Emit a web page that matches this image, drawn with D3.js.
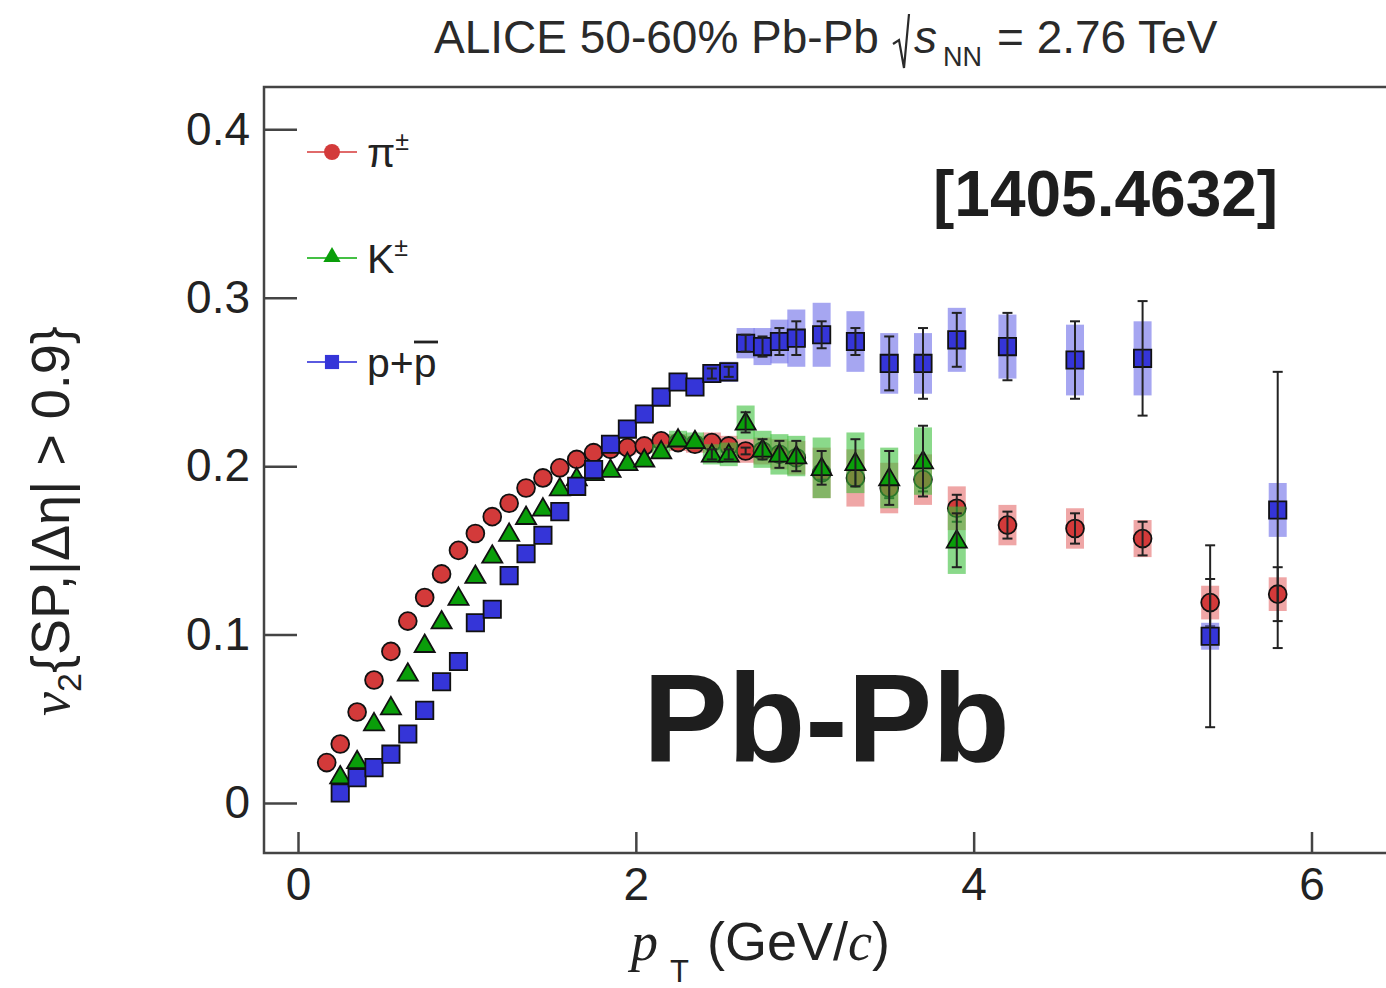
<!DOCTYPE html>
<html>
<head>
<meta charset="utf-8">
<script src="https://cdn.jsdelivr.net/npm/d3@7"></script>
<style>
  html, body { margin: 0; padding: 0; background: #fff; }
  svg { display: block; font-family: "Liberation Sans", Arial, Helvetica, sans-serif; }
</style>
</head>
<body>
<svg id="chart" width="1386" height="988"></svg>
<script>
// ---- data ----
const pionPt = [0.17, 0.25, 0.35, 0.45, 0.55, 0.65, 0.75, 0.85, 0.95, 1.05, 1.15, 1.25, 1.35, 1.45, 1.55, 1.65, 1.75, 1.85, 1.95, 2.05, 2.15, 2.25, 2.35, 2.45, 2.55, 2.65, 2.75, 2.85, 2.95, 3.1, 3.3, 3.5, 3.7, 3.9, 4.2, 4.6, 5.0, 5.4, 5.8];
const pionV2 = [0.024, 0.035, 0.054, 0.073, 0.090, 0.108, 0.122, 0.136, 0.150, 0.160, 0.170, 0.178, 0.187, 0.193, 0.199, 0.204, 0.208, 0.210, 0.211, 0.212, 0.215, 0.214, 0.213, 0.214, 0.212, 0.209, 0.209, 0.207, 0.205, 0.196, 0.193, 0.187, 0.192, 0.175, 0.165, 0.163, 0.157, 0.119, 0.124];
const pionStat = [0, 0, 0, 0, 0, 0, 0, 0, 0, 0, 0, 0, 0, 0, 0, 0, 0, 0, 0, 0, 0, 0, 0, 0, 0, 0.002, 0.002, 0.003, 0.003, 0.004, 0.005, 0.006, 0.007, 0.008, 0.008, 0.009, 0.010, 0.014, 0.016];
const pionSys = [0, 0, 0, 0, 0, 0, 0, 0, 0, 0, 0, 0, 0, 0, 0, 0, 0, 0, 0.004, 0.004, 0.004, 0.005, 0.005, 0.006, 0.006, 0.007, 0.008, 0.009, 0.010, 0.015, 0.017, 0.015, 0.015, 0.013, 0.012, 0.012, 0.011, 0.010, 0.010];

const kaonPt = [0.25, 0.35, 0.45, 0.55, 0.65, 0.75, 0.85, 0.95, 1.05, 1.15, 1.25, 1.35, 1.45, 1.55, 1.65, 1.75, 1.85, 1.95, 2.05, 2.15, 2.25, 2.35, 2.45, 2.55, 2.65, 2.75, 2.85, 2.95, 3.1, 3.3, 3.5, 3.7, 3.9];
const kaonV2 = [0.016, 0.025, 0.0475, 0.057, 0.077, 0.094, 0.108, 0.122, 0.135, 0.147, 0.160, 0.170, 0.175, 0.187, 0.193, 0.196, 0.198, 0.202, 0.204, 0.209, 0.216, 0.215, 0.207, 0.207, 0.226, 0.210, 0.207, 0.206, 0.199, 0.202, 0.193, 0.203, 0.156];
const kaonStat = [0, 0, 0, 0, 0, 0, 0, 0, 0, 0, 0, 0, 0, 0, 0, 0, 0, 0, 0, 0, 0, 0, 0.003, 0.003, 0.006, 0.006, 0.008, 0.009, 0.010, 0.014, 0.016, 0.021, 0.016];
const kaonSys = [0, 0, 0, 0, 0, 0, 0, 0, 0, 0, 0, 0, 0, 0, 0, 0, 0, 0, 0, 0.004, 0.005, 0.005, 0.006, 0.007, 0.010, 0.011, 0.012, 0.012, 0.018, 0.018, 0.018, 0.020, 0.020];

const protonPt = [0.25, 0.35, 0.45, 0.55, 0.65, 0.75, 0.85, 0.95, 1.05, 1.15, 1.25, 1.35, 1.45, 1.55, 1.65, 1.75, 1.85, 1.95, 2.05, 2.15, 2.25, 2.35, 2.45, 2.55, 2.65, 2.75, 2.85, 2.95, 3.1, 3.3, 3.5, 3.7, 3.9, 4.2, 4.6, 5.0, 5.4, 5.8];
const protonV2 = [0.006, 0.015, 0.021, 0.029, 0.041, 0.055, 0.072, 0.084, 0.107, 0.115, 0.135, 0.148, 0.159, 0.173, 0.188, 0.198, 0.213, 0.222, 0.231, 0.241, 0.250, 0.247, 0.255, 0.256, 0.273, 0.271, 0.274, 0.276, 0.278, 0.274, 0.261, 0.261, 0.275, 0.271, 0.263, 0.264, 0.099, 0.174];
const protonStat = [0, 0, 0, 0, 0, 0, 0, 0, 0, 0, 0, 0, 0, 0, 0, 0, 0, 0, 0, 0, 0, 0, 0.003, 0.003, 0.005, 0.006, 0.008, 0.010, 0.008, 0.008, 0.016, 0.021, 0.016, 0.020, 0.023, 0.034, 0.054, 0.082];
const protonSys = [0, 0, 0, 0, 0, 0, 0, 0, 0, 0, 0, 0, 0, 0, 0, 0, 0, 0, 0, 0, 0.004, 0.004, 0.005, 0.006, 0.009, 0.011, 0.013, 0.017, 0.019, 0.018, 0.018, 0.018, 0.019, 0.019, 0.021, 0.022, 0.008, 0.016];

const xTicks = [0, 2, 4, 6];
const yTicks = [0, 0.1, 0.2, 0.3, 0.4];
const yTickLabels = ["0", "0.1", "0.2", "0.3", "0.4"];

// ---- layout ----
const svg = d3.select("#chart");
const frame = { left: 264, top: 87, right: 1400, bottom: 853 };
const x = d3.scaleLinear().domain([0, 6]).range([298, 1311.5]);
const y = d3.scaleLinear().domain([0, 0.4]).range([803, 129.3]);
const axisColor = "#444";
const textColor = "#222";

// axes
const gx = svg.append("g").attr("transform", `translate(0,${frame.bottom})`)
  .call(d3.axisBottom(x).tickValues(xTicks).tickSize(-21).tickPadding(14).tickFormat(d3.format("d")));
const gy = svg.append("g").attr("transform", `translate(${frame.left},0)`)
  .call(d3.axisLeft(y).tickValues(yTicks).tickSize(-33).tickPadding(14).tickFormat((d, i) => yTickLabels[i]));
[gx, gy].forEach(g => {
  g.select(".domain").remove();
  g.selectAll(".tick line").attr("stroke", axisColor).attr("stroke-width", 2.5);
  g.selectAll(".tick text").attr("fill", textColor).attr("font-size", 46)
    .attr("font-family", "'Liberation Sans', Arial, sans-serif");
});

// frame
svg.append("path")
  .attr("d", `M${frame.right},${frame.top}H${frame.left}V${frame.bottom}H${frame.right}`)
  .attr("fill", "none").attr("stroke", axisColor).attr("stroke-width", 2.5);

// series
const series = [
  { pt: pionPt, v: pionV2, stat: pionStat, sys: pionSys, fill: "#d33a3a", sysFill: "#e56a6a", line: "#e06a6a", shape: "circle" },
  { pt: kaonPt, v: kaonV2, stat: kaonStat, sys: kaonSys, fill: "#0a9e0a", sysFill: "#3cbf3c", line: "#44c044", shape: "triangle" },
  { pt: protonPt, v: protonV2, stat: protonStat, sys: protonSys, fill: "#3535d8", sysFill: "#6a6ae8", line: "#5a5ae0", shape: "square" }
];

const symbolFor = s => s === "circle" ? d3.symbol(d3.symbolCircle, 250)
  : s === "triangle" ? d3.symbol(d3.symbolTriangle, 175)
  : d3.symbol(d3.symbolSquare, 300);

series.forEach(s => {
  const data = s.pt.map((p, i) => ({ p, v: s.v[i], e: s.stat[i], sy: s.sys[i] }));
  const g = svg.append("g");
  // systematic boxes
  g.selectAll("rect.sys").data(data.filter(d => d.sy > 0)).join("rect")
    .attr("x", d => x(d.p) - 9).attr("width", 18)
    .attr("y", d => y(d.v + d.sy)).attr("height", d => y(d.v - d.sy) - y(d.v + d.sy))
    .attr("fill", s.sysFill).attr("fill-opacity", 0.6);
  // markers
  g.selectAll("path.m").data(data).join("path")
    .attr("transform", d => `translate(${x(d.p)},${y(d.v) + (s.shape === "triangle" ? 1.5 : 0)})`)
    .attr("d", symbolFor(s.shape))
    .attr("fill", s.fill).attr("stroke", "#111").attr("stroke-width", 1.8);
  // statistical bars
  const eb = g.selectAll("g.eb").data(data.filter(d => d.e > 0)).join("g");
  eb.append("line").attr("x1", d => x(d.p)).attr("x2", d => x(d.p))
    .attr("y1", d => y(d.v + d.e)).attr("y2", d => y(d.v - d.e))
    .attr("stroke", "#222").attr("stroke-width", 2);
  [1, -1].forEach(sgn => {
    eb.append("line").attr("x1", d => x(d.p) - 5).attr("x2", d => x(d.p) + 5)
      .attr("y1", d => y(d.v + sgn * d.e)).attr("y2", d => y(d.v + sgn * d.e))
      .attr("stroke", "#222").attr("stroke-width", 2);
  });
});

// legend
const legendItems = [
  { s: series[0], yPos: 152, label: "π", sup: "±" },
  { s: series[1], yPos: 258, label: "K", sup: "±" },
  { s: series[2], yPos: 362, label: "p+p", sup: "" }
];
legendItems.forEach(li => {
  const g = svg.append("g");
  g.append("line").attr("x1", 307).attr("x2", 357).attr("y1", li.yPos).attr("y2", li.yPos)
    .attr("stroke", li.s.line).attr("stroke-width", 2.2);
  g.append("path").attr("transform", `translate(332,${li.yPos + (li.s.shape === "triangle" ? -1 : 0)})`)
    .attr("d", li.s.shape === "circle" ? d3.symbol(d3.symbolCircle, 200)()
      : li.s.shape === "triangle" ? d3.symbol(d3.symbolTriangle, 130)() : d3.symbol(d3.symbolSquare, 200)())
    .attr("fill", li.s.fill);
  const t = g.append("text").attr("x", 367).attr("y", li.yPos + 15).attr("font-size", 41).attr("fill", textColor);
  t.append("tspan").text(li.label);
  if (li.sup) t.append("tspan").attr("font-size", 25).attr("dy", -17).text(li.sup);
});
// overline on p-bar
svg.append("line").attr("x1", 414).attr("x2", 438).attr("y1", 342).attr("y2", 342)
  .attr("stroke", textColor).attr("stroke-width", 2.8);

// title
const tc = "#2a2a2a";
svg.append("text").attr("x", 434).attr("y", 53).attr("font-size", 46).attr("fill", tc).text("ALICE 50-60% Pb-Pb");
svg.append("path").attr("d", "M893,44 L899,40 L904,68 L909,14")
  .attr("fill", "none").attr("stroke", tc).attr("stroke-width", 2.2);
svg.append("text").attr("x", 914).attr("y", 53).attr("font-size", 46).attr("font-style", "italic").attr("fill", tc).text("s");
svg.append("text").attr("x", 943).attr("y", 66).attr("font-size", 27).attr("fill", tc).text("NN");
svg.append("text").attr("x", 997).attr("y", 53).attr("font-size", 46).attr("fill", tc).text("= 2.76 TeV");

// annotations
svg.append("text").attr("x", 933).attr("y", 216).attr("font-size", 64).attr("font-weight", "bold").attr("fill", "#1e1e1e").text("[1405.4632]");
svg.append("text").attr("x", 643).attr("y", 762).attr("font-size", 127).attr("font-weight", "bold").attr("fill", "#1e1e1e").text("Pb-Pb");

// x label
const xl = svg.append("text").attr("y", 960).attr("font-size", 54).attr("fill", textColor);
xl.append("tspan").attr("x", 631).attr("font-family", "'Liberation Serif', serif").attr("font-style", "italic").text("p");
xl.append("tspan").attr("font-size", 31).attr("dx", 12).attr("dy", 22).text("T");
xl.append("tspan").attr("dx", 18).attr("dy", -22).text("(GeV/");
xl.append("tspan").attr("font-family", "'Liberation Serif', serif").attr("font-style", "italic").text("c");
xl.append("tspan").text(")");

// y label
const yl = svg.append("text").attr("transform", "translate(69,716) rotate(-90)").attr("font-size", 54).attr("fill", textColor);
yl.append("tspan").attr("font-style", "italic").attr("font-family", "'Liberation Serif', serif").text("v");
yl.append("tspan").attr("font-size", 34).attr("dy", 12).text("2");
yl.append("tspan").attr("dy", -12).text("{SP,|Δη| > 0.9}");
</script>
</body>
</html>
